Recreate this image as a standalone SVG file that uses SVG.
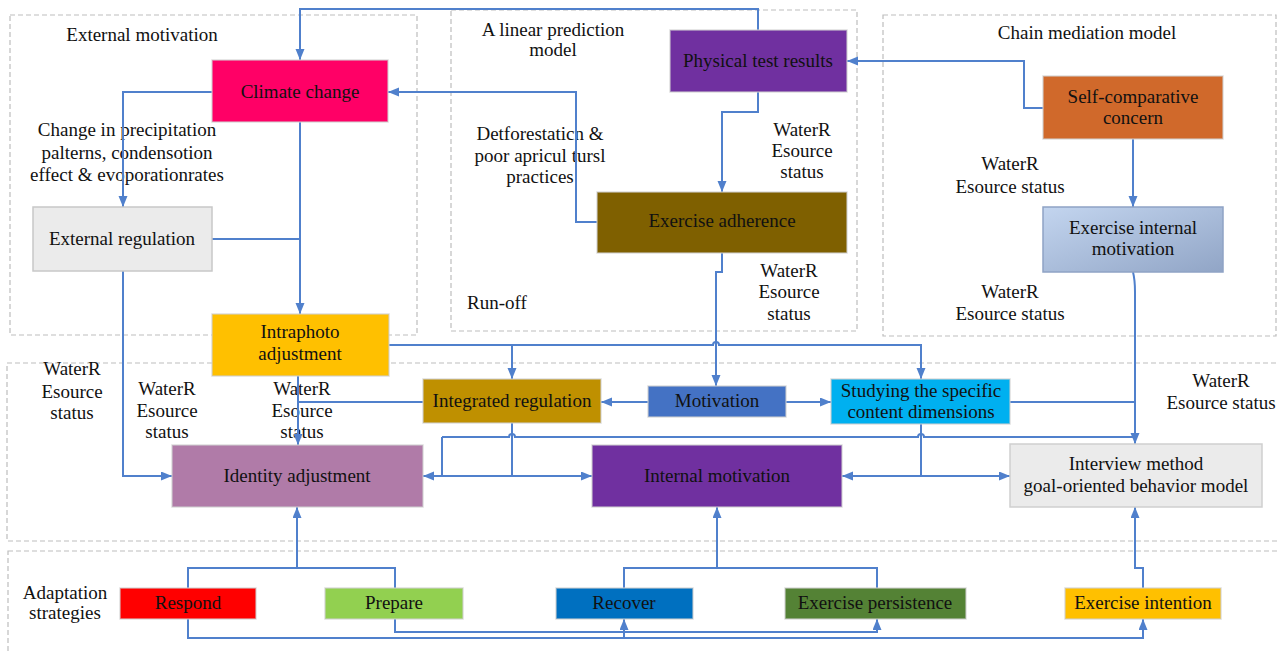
<svg xmlns="http://www.w3.org/2000/svg" width="1278" height="652" viewBox="0 0 1278 652" font-family="'Liberation Serif', 'DejaVu Serif', 'Times New Roman', serif">
  <style>
    text { font-family: 'Liberation Serif', 'DejaVu Serif', 'Times New Roman', serif; font-size: 19px; fill: #111; text-anchor: middle; }
    .zone { fill: none; stroke: #BDBDBD; stroke-width: 1.2; stroke-dasharray: 5 3; }
    .box { stroke: #CFCFCF; stroke-opacity: 0.7; stroke-width: 1.5; }
    .link { fill: none; stroke: #5080CC; stroke-width: 2; }
    .arrow { marker-end: url(#tip); }
  </style>
  <defs>
    <marker id="tip" markerUnits="userSpaceOnUse" markerWidth="12" markerHeight="10" refX="11" refY="4.5" orient="auto">
      <path d="M0,0 L11,4.5 L0,9 z" fill="#5080CC"/>
    </marker>
    <linearGradient id="steel" x1="0" y1="0" x2="1" y2="1">
      <stop offset="0" stop-color="#C3D5EF"/>
      <stop offset="1" stop-color="#91A5C6"/>
    </linearGradient>
  </defs>

  <!-- dashed grouping zones -->
  <g id="zones">
    <rect class="zone" x="10" y="15" width="407" height="320"/>
    <rect class="zone" x="451" y="10" width="406" height="321"/>
    <rect class="zone" x="883" y="15" width="393" height="321"/>
    <rect class="zone" x="7" y="363" width="1290" height="178"/>
    <rect class="zone" x="8" y="551" width="1290" height="120"/>
  </g>

  <!-- zone titles and free labels -->
  <g id="labels" font-family="'Liberation Serif', serif">
    <text x="142" y="41">External motivation</text>
    <text x="553" y="36">A linear prediction</text>
    <text x="553" y="56">model</text>
    <text x="1087" y="39">Chain mediation model</text>
    <text x="127" y="136">Change in precipitation</text>
    <text x="127" y="159">palterns, condensotion</text>
    <text x="127" y="181">effect &amp; evoporationrates</text>
    <text x="540" y="140">Detforestaticn &amp;</text>
    <text x="540" y="162">poor apricul tursl</text>
    <text x="540" y="183">practices</text>
    <text x="802" y="136">WaterR</text>
    <text x="802" y="157">Esource</text>
    <text x="802" y="178">status</text>
    <text x="1010" y="170">WaterR</text>
    <text x="1010" y="193">Esource status</text>
    <text x="789" y="277">WaterR</text>
    <text x="789" y="298">Esource</text>
    <text x="789" y="320">status</text>
    <text x="497" y="309">Run-off</text>
    <text x="1010" y="298">WaterR</text>
    <text x="1010" y="320">Esource status</text>
    <text x="72" y="375">WaterR</text>
    <text x="72" y="398">Esource</text>
    <text x="72" y="419">status</text>
    <text x="167" y="395">WaterR</text>
    <text x="167" y="417">Esource</text>
    <text x="167" y="438">status</text>
    <text x="302" y="395">WaterR</text>
    <text x="302" y="417">Esource</text>
    <text x="302" y="438">status</text>
    <text x="1221" y="387">WaterR</text>
    <text x="1221" y="409">Esource status</text>
    <text x="65" y="599">Adaptation</text>
    <text x="65" y="619">strategies</text>
  </g>

  <!-- connectors -->
  <g id="connectors">
    <path class="link arrow" d="M758,30 V9 H300 V60"/>
    <path class="link arrow" d="M597,222 H576 V92 H388"/>
    <path class="link arrow" d="M212,92 H123 V207"/>
    <path class="link arrow" d="M300,122 V314"/>
    <path class="link" d="M212,239 H300"/>
    <path class="link arrow" d="M123,271 V476 H172"/>
    <path class="link arrow" d="M758,92 V112 H722 V192"/>
    <path class="link arrow" d="M1043,108 H1024 V61 H847"/>
    <path class="link arrow" d="M1133,139 V207"/>
    <path class="link arrow" d="M1133,272 Q1135,280 1135,292 V444"/>
    <path class="link arrow" d="M722,253 V272 H716 V386"/>
    <path class="link arrow" d="M389,345 H713 A3,3 0 0 1 719,345 H921 V379"/>
    <path class="link arrow" d="M512,345 V379"/>
    <path class="link arrow" d="M648,402 H601"/>
    <path class="link arrow" d="M786,402 H831"/>
    <path class="link" d="M423,402 H298"/>
    <path class="link arrow" d="M298,376 V445"/>
    <path class="link" d="M1010,402 H1135"/>
    <path class="link" d="M512,423 V476"/>
    <path class="link" d="M442,437 V476"/>
    <path class="link arrow" d="M512,476 H423"/>
    <path class="link arrow" d="M512,476 H592"/>
    <path class="link" d="M442,437 H509 A3,3 0 0 1 515,437 H918 A3,3 0 0 1 924,437 H1135"/>
    <path class="link" d="M921,424 V476"/>
    <path class="link arrow" d="M921,476 H842"/>
    <path class="link arrow" d="M921,476 H1010"/>
    <path class="link arrow" d="M297,568 V507"/>
    <path class="link" d="M188,588 V568 H395 V588"/>
    <path class="link arrow" d="M717,568 V507"/>
    <path class="link" d="M624,588 V568 H877 V588"/>
    <path class="link arrow" d="M1143,588 V568 H1135 V507"/>
    <path class="link arrow" d="M188,619 V638 H1143 V619"/>
    <path class="link arrow" d="M624,638 V619"/>
    <path class="link arrow" d="M395,619 V632 H877 V619"/>
  </g>

  <!-- nodes -->
  <g id="climate-change">
    <rect class="box" x="212" y="60" width="176" height="62" fill="#FF0066"/>
    <text x="300" y="98">Climate change</text>
  </g>
  <g id="physical-test-results">
    <rect class="box" x="670" y="30" width="177" height="62" fill="#7030A0"/>
    <text x="758" y="67">Physical test results</text>
  </g>
  <g id="self-comparative-concern">
    <rect class="box" x="1043" y="76" width="180" height="63" fill="#D0692B"/>
    <text x="1133" y="103">Self-comparative</text>
    <text x="1133" y="124">concern</text>
  </g>
  <g id="external-regulation">
    <rect x="33" y="207" width="179" height="64" fill="#EBEBEB" stroke="#C8C8C8" stroke-width="1.5"/>
    <text x="122" y="245">External regulation</text>
  </g>
  <g id="exercise-adherence">
    <rect class="box" x="597" y="192" width="250" height="61" fill="#7F6000"/>
    <text x="722" y="227">Exercise adherence</text>
  </g>
  <g id="exercise-internal-motivation">
    <rect x="1043" y="207" width="180" height="65" fill="url(#steel)" stroke="#8FA3C5" stroke-width="1.5"/>
    <text x="1133" y="234">Exercise internal</text>
    <text x="1133" y="255">motivation</text>
  </g>
  <g id="intraphoto-adjustment">
    <rect class="box" x="212" y="314" width="177" height="62" fill="#FFC000"/>
    <text x="300" y="338">Intraphoto</text>
    <text x="300" y="360">adjustment</text>
  </g>
  <g id="integrated-regulation">
    <rect class="box" x="423" y="379" width="178" height="44" fill="#BF9000"/>
    <text x="512" y="407">Integrated regulation</text>
  </g>
  <g id="motivation">
    <rect class="box" x="648" y="386" width="138" height="31" fill="#4472C4"/>
    <text x="717" y="407">Motivation</text>
  </g>
  <g id="studying-content-dimensions">
    <rect class="box" x="831" y="379" width="179" height="45" fill="#00B0F0"/>
    <text x="921" y="397">Studying the specific</text>
    <text x="921" y="418">content dimensions</text>
  </g>
  <g id="identity-adjustment">
    <rect class="box" x="172" y="445" width="251" height="62" fill="#B07BA8"/>
    <text x="297" y="482">Identity adjustment</text>
  </g>
  <g id="internal-motivation">
    <rect class="box" x="592" y="445" width="250" height="62" fill="#7030A0"/>
    <text x="717" y="482">Internal motivation</text>
  </g>
  <g id="interview-method">
    <rect x="1010" y="444" width="252" height="63" fill="#EBEBEB" stroke="#CFCFCF" stroke-width="1.5"/>
    <text x="1136" y="470">Interview method</text>
    <text x="1136" y="492">goal-oriented behavior model</text>
  </g>
  <g id="respond">
    <rect class="box" x="120" y="588" width="136" height="31" fill="#FF0000"/>
    <text x="188" y="609">Respond</text>
  </g>
  <g id="prepare">
    <rect class="box" x="325" y="588" width="138" height="31" fill="#92D050"/>
    <text x="394" y="609">Prepare</text>
  </g>
  <g id="recover">
    <rect class="box" x="556" y="588" width="137" height="31" fill="#0070C0"/>
    <text x="624" y="609">Recover</text>
  </g>
  <g id="exercise-persistence">
    <rect class="box" x="785" y="588" width="181" height="31" fill="#548235"/>
    <text x="875" y="609">Exercise persistence</text>
  </g>
  <g id="exercise-intention">
    <rect class="box" x="1065" y="588" width="156" height="31" fill="#FFC000"/>
    <text x="1143" y="609">Exercise intention</text>
  </g>
</svg>
